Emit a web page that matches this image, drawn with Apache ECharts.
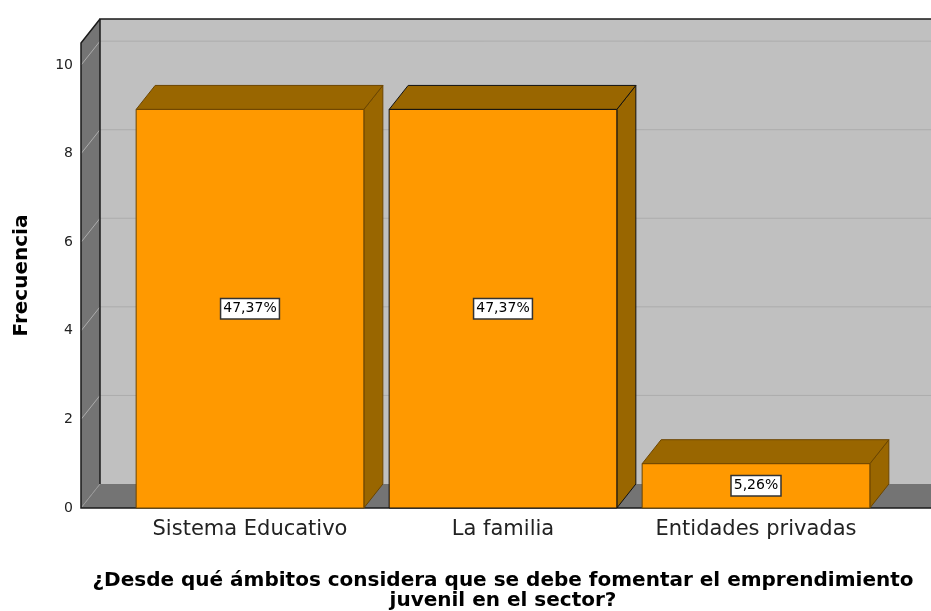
<!DOCTYPE html>
<html lang="es">
<head>
  <meta charset="UTF-8">
  <title>Frecuencia</title>
  <script src="https://cdn.jsdelivr.net/npm/echarts@6/dist/echarts.min.js"></script>
  <style>
    html,body{margin:0;padding:0;background:#fff;}
    #chart{width:931px;height:611px;}
  </style>
</head>
<body>
  <div id="chart"></div>
  <script>
    // datos
    var categorias = ['Sistema Educativo', 'La familia', 'Entidades privadas'];
    var frecuencias = [9, 9, 1];
    var porcentajes = ['47,37%', '47,37%', '5,26%'];
    var ticksY = [0, 2, 4, 6, 8, 10];

    var FONT = '"DejaVu Sans", Verdana, sans-serif';
    // profundidad del efecto 3D
    var DX = 19, DY = 24;
    var Y_OFFSET = 42.5; // distancia entre pared izquierda y el primer hueco

    var myChart = echarts.init(document.getElementById('chart'));

    // paredes, suelo y lineas de rejilla
    function renderWalls(params, api) {
      var cs = params.coordSys;
      var y0 = api.coord([0, 0])[1];
      var yTop = api.coord([0, 10.5])[1];
      var xl = cs.x - Y_OFFSET;
      var xr = cs.x + cs.width + 200;
      var children = [];
      // pared del fondo
      children.push({type: 'rect', shape: {x: xl + DX, y: yTop - DY, width: xr - xl, height: y0 - yTop},
        style: {fill: '#c0c0c0'}});
      // pared izquierda
      children.push({type: 'polygon', shape: {points: [[xl, yTop], [xl + DX, yTop - DY], [xl + DX, y0 - DY], [xl, y0]]},
        style: {fill: '#747474'}});
      // suelo
      children.push({type: 'polygon', shape: {points: [[xl, y0], [xl + DX, y0 - DY], [xr, y0 - DY], [xr, y0]]},
        style: {fill: '#747474'}});
      // rejilla
      ticksY.forEach(function (v) {
        if (v === 0) return;
        var y = api.coord([0, v])[1];
        children.push({type: 'polyline', shape: {points: [[xl, y], [xl + DX, y - DY], [xr, y - DY]]},
          style: {stroke: '#acacac', lineWidth: 1, fill: null}});
      });
      children.push({type: 'line', shape: {x1: xl, y1: y0, x2: xl + DX, y2: y0 - DY},
        style: {stroke: '#999', lineWidth: 1}});
      // bordes
      children.push({type: 'polyline', shape: {points: [[xl + DX, y0 - DY], [xl + DX, yTop - DY], [xr, yTop - DY]]},
        style: {stroke: '#1a1a1a', lineWidth: 1.5, fill: null}});
      children.push({type: 'polyline', shape: {points: [[xl + DX, yTop - DY], [xl, yTop], [xl, y0], [xr, y0]]},
        style: {stroke: '#1a1a1a', lineWidth: 1.5, fill: null}});
      return {type: 'group', children: children};
    }

    // barras 3D
    function renderBar(params, api) {
      var idx = api.value(0);
      var val = api.value(1);
      var top = api.coord([idx, val]);
      var base = api.coord([idx, 0]);
      var w = api.size([1, 0])[0] * 0.9;
      var x0 = top[0] - w / 2, x1 = top[0] + w / 2;
      var yt = top[1], yb = base[1];
      var edge = idx === 1 ? '#111' : '#6b4500';
      return {
        type: 'group',
        children: [
          {type: 'polygon', shape: {points: [[x1, yt], [x1 + DX, yt - DY], [x1 + DX, yb - DY], [x1, yb]]},
            style: {fill: '#996600', stroke: edge, lineWidth: 1}},
          {type: 'polygon', shape: {points: [[x0, yt], [x0 + DX, yt - DY], [x1 + DX, yt - DY], [x1, yt]]},
            style: {fill: '#996600', stroke: edge, lineWidth: 1}},
          {type: 'rect', shape: {x: x0, y: yt, width: w, height: yb - yt},
            style: {fill: '#ff9900', stroke: edge, lineWidth: 1}},
          {type: 'text', x: top[0], y: (yt + yb) / 2,
            style: {text: porcentajes[idx], fontSize: 14, fontFamily: FONT, fill: '#000',
              align: 'center', verticalAlign: 'middle', backgroundColor: '#fff',
              borderColor: '#333', borderWidth: 1.5, padding: [3, 2, 2, 2]}}
        ]
      };
    }

    var option = {
      animation: false,
      grid: {left: 123.5, right: 48.5, top: 43, bottom: 103, outerBoundsMode: 'none'},
      xAxis: {
        type: 'category',
        data: categorias,
        axisLine: {show: false},
        axisTick: {show: false},
        axisLabel: {fontSize: 21, fontFamily: FONT, color: '#222', margin: 11,
          interval: 0, hideOverlap: false},
        name: '¿Desde qué ámbitos considera que se debe fomentar el emprendimiento\njuvenil en el sector?',
        nameLocation: 'middle',
        nameGap: 63,
        nameTextStyle: {fontSize: 20, fontWeight: 'bold', fontFamily: FONT, color: '#000', lineHeight: 20}
      },
      yAxis: {
        type: 'value',
        min: 0,
        max: 10.5,
        interval: 2,
        offset: Y_OFFSET,
        axisLine: {show: false},
        axisTick: {show: false},
        splitLine: {show: false},
        axisLabel: {fontSize: 14, fontFamily: FONT, color: '#222', margin: 8,
          showMaxLabel: false,
          formatter: function (v) { return ticksY.indexOf(v) >= 0 ? v : ''; }},
        name: 'Frecuencia',
        nameLocation: 'middle',
        nameGap: 49,
        nameTextStyle: {fontSize: 20, fontWeight: 'bold', fontFamily: FONT, color: '#000'}
      },
      series: [{
        type: 'custom',
        renderItem: renderWalls,
        data: [[0, 0]],
        clip: false,
        silent: true,
        z: 1
      }, {
        type: 'custom',
        renderItem: renderBar,
        data: frecuencias.map(function (v, i) { return [i, v]; }),
        clip: false,
        z: 2
      }]
    };
    myChart.setOption(option);
  </script>
</body>
</html>
